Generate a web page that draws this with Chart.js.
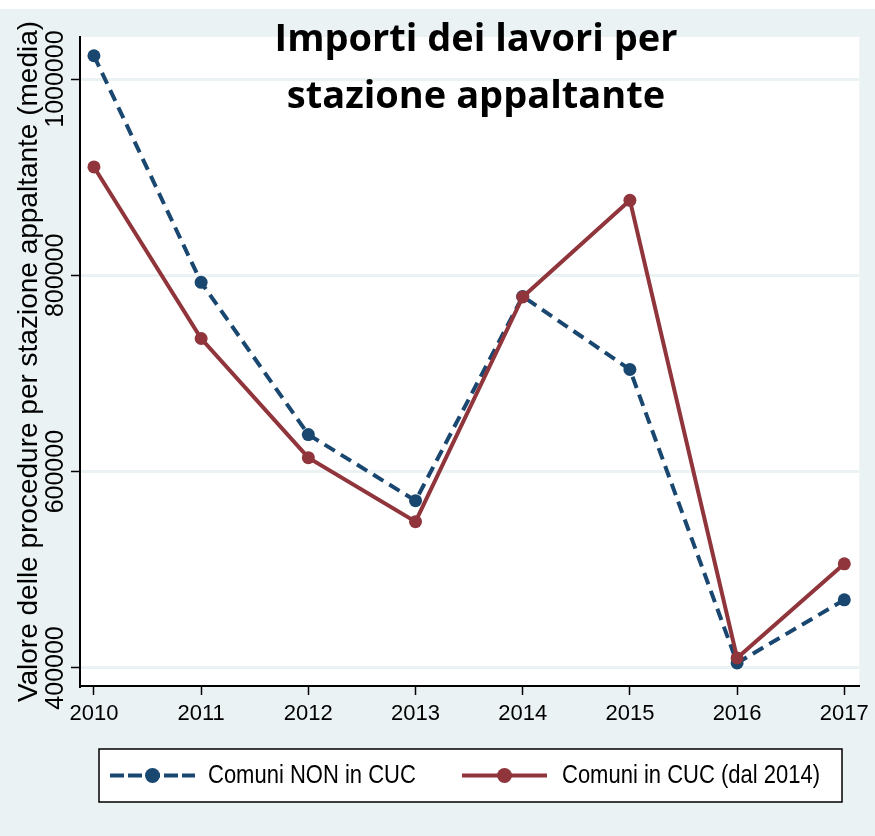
<!DOCTYPE html>
<html>
<head>
<meta charset="utf-8">
<title>Importi dei lavori per stazione appaltante</title>
<script src="https://cdn.jsdelivr.net/npm/chart.js@4.4.0/dist/chart.umd.min.js"></script>
<style>
  html, body { margin: 0; padding: 0; background: #eaf2f3; }
  #wrap { width: 875px; height: 836px; }
</style>
</head>
<body>
<div id="wrap"><canvas id="chart" width="875" height="836"></canvas></div>
<script>
// Values (mean value per contracting station)
const years = [2010, 2011, 2012, 2013, 2014, 2015, 2016, 2017];
const nonCuc = [1023800, 792900, 637800, 570400, 778600, 704100, 405100, 469400];
const inCuc = [910500, 735700, 614300, 549000, 778000, 876500, 410200, 506100];
const yTicks = [400000, 600000, 800000, 1000000];
const seriesLabels = ['Comuni NON in CUC', 'Comuni in CUC (dal 2014)'];
const titleLines = ['Importi dei lavori per', 'stazione appaltante'];
const yTitle = 'Valore delle procedure per stazione appaltante (media)';

const NAVY = '#1a476f';
const MAROON = '#90353b';
const BG = '#eaf2f3';
const SANS = "'Liberation Sans', Arial, sans-serif";

// Paint the outer background, the thin white strip on top and the white plot area
const backgroundPlugin = {
  id: 'background',
  beforeDraw(chart) {
    const { ctx, chartArea: a } = chart;
    ctx.save();
    ctx.fillStyle = BG;
    ctx.fillRect(0, 0, chart.width, chart.height);
    ctx.fillStyle = '#fff';
    ctx.fillRect(0, 0, chart.width, 9);
    ctx.fillRect(a.left, a.top, a.right - a.left, a.bottom - a.top);
    ctx.restore();
  },
};

// Bold two-line title laid over the top of the plot
const titlePlugin = {
  id: 'overlayTitle',
  afterDraw(chart) {
    const { ctx } = chart;
    ctx.save();
    ctx.fillStyle = '#000';
    ctx.font = "bold 38px 'Open Sans', Lato, sans-serif";
    ctx.textAlign = 'center';
    ctx.textBaseline = 'alphabetic';
    ctx.fillText(titleLines[0], 476, 51);
    ctx.fillText(titleLines[1], 476, 108);
    ctx.restore();
  },
};

// Boxed legend under the x axis: line sample with marker, then label.
// The text in the original is squeezed sideways, so it is drawn narrowed.
const legendPlugin = {
  id: 'boxLegend',
  afterDraw(chart) {
    const { ctx } = chart;
    const box = { x: 99, y: 749, w: 743, h: 53 };
    const items = [
      { x0: 110, x1: 195, tx: 208 },
      { x0: 462, x1: 547, tx: 562 },
    ];
    const cy = box.y + box.h / 2;
    ctx.save();
    ctx.fillStyle = '#fff';
    ctx.fillRect(box.x, box.y, box.w, box.h);
    ctx.strokeStyle = '#000';
    ctx.lineWidth = 1.5;
    ctx.strokeRect(box.x, box.y, box.w, box.h);
    chart.data.datasets.forEach((ds, i) => {
      const it = items[i];
      ctx.strokeStyle = ds.borderColor;
      ctx.lineWidth = ds.borderWidth;
      ctx.setLineDash(ds.borderDash ? [14, 4] : []);
      ctx.beginPath();
      ctx.moveTo(it.x0, cy);
      ctx.lineTo(it.x1, cy);
      ctx.stroke();
      ctx.setLineDash([]);
      ctx.fillStyle = ds.borderColor;
      ctx.beginPath();
      ctx.arc((it.x0 + it.x1) / 2, cy, 7.5, 0, Math.PI * 2);
      ctx.fill();

      ctx.save();
      ctx.translate(it.tx, cy + 1);
      ctx.scale(0.88, 1);
      ctx.fillStyle = '#000';
      ctx.font = '25px ' + SANS;
      ctx.textAlign = 'left';
      ctx.textBaseline = 'middle';
      ctx.fillText(ds.label, 0, 0);
      ctx.restore();
    });
    ctx.restore();
  },
};

const ctx = document.getElementById('chart').getContext('2d');
new Chart(ctx, {
  type: 'line',
  data: {
    datasets: [
      {
        label: seriesLabels[0],
        data: years.map((x, i) => ({ x, y: nonCuc[i] })),
        borderColor: NAVY,
        backgroundColor: NAVY,
        borderWidth: 4,
        borderDash: [12, 7],
        pointRadius: 6.5,
        pointBorderWidth: 0,
        pointBackgroundColor: NAVY,
        tension: 0,
        order: 2,
      },
      {
        label: seriesLabels[1],
        data: years.map((x, i) => ({ x, y: inCuc[i] })),
        borderColor: MAROON,
        backgroundColor: MAROON,
        borderWidth: 4,
        pointRadius: 6.5,
        pointBorderWidth: 0,
        pointBackgroundColor: MAROON,
        tension: 0,
        order: 1,
      },
    ],
  },
  options: {
    responsive: false,
    animation: false,
    devicePixelRatio: 1,
    layout: { padding: { top: 37, right: 12, left: 0, bottom: 0 } },
    plugins: {
      legend: { display: false },
      tooltip: { enabled: false },
    },
    scales: {
      x: {
        type: 'linear',
        min: 2009.87,
        max: 2017.14,
        afterBuildTicks: (scale) => {
          scale.ticks = years.map((v) => ({ value: v }));
        },
        afterFit: (scale) => {
          scale.height = 150;
        },
        grid: {
          drawOnChartArea: false,
          tickLength: 9,
          tickColor: '#000',
          tickWidth: 1.5,
        },
        border: { color: '#000', width: 2 },
        ticks: {
          color: '#000',
          font: { family: SANS, size: 22 },
          padding: 6,
          maxRotation: 0,
          callback: (v) => String(v),
        },
      },
      y: {
        min: 381600,
        max: 1042900,
        afterBuildTicks: (scale) => {
          scale.ticks = yTicks.map((v) => ({ value: v }));
        },
        afterFit: (scale) => {
          scale.width = 80;
        },
        grid: {
          color: BG,
          lineWidth: 3,
          tickLength: 9,
          tickColor: '#000',
          tickWidth: 1.5,
        },
        border: { color: '#000', width: 2 },
        ticks: {
          color: '#000',
          font: { family: SANS, size: 25 },
          minRotation: 90,
          maxRotation: 90,
          crossAlign: 'center',
          padding: -34,
          callback: (v) => String(v),
        },
        title: {
          display: true,
          text: yTitle,
          color: '#000',
          font: { family: SANS, size: 28 },
          padding: { top: 12, bottom: 0 },
        },
      },
    },
  },
  plugins: [backgroundPlugin, titlePlugin, legendPlugin],
});
</script>
</body>
</html>
